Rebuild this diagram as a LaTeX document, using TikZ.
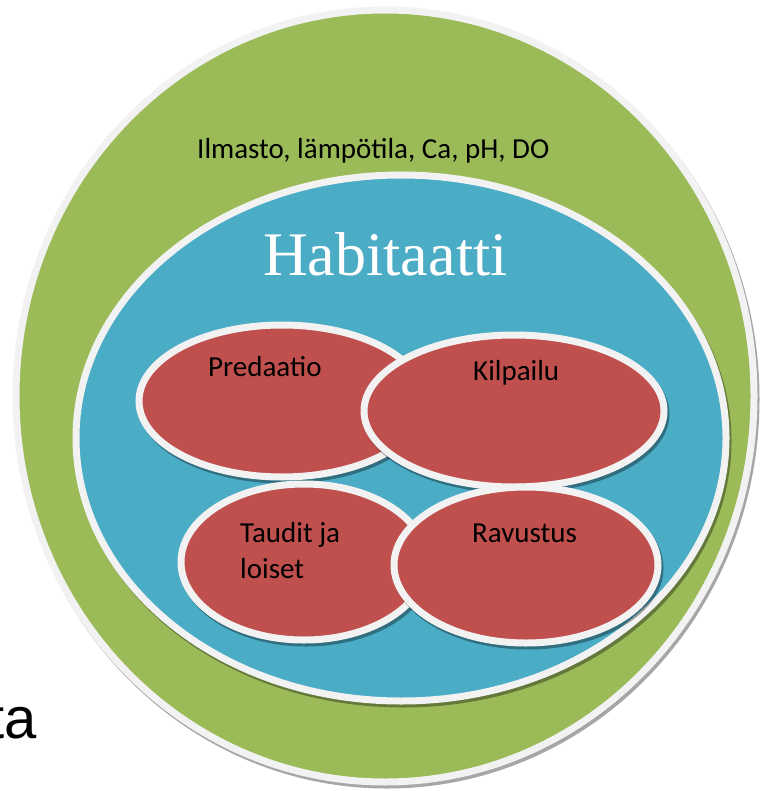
\documentclass[tikz,border=0pt]{standalone}
\usepackage{fontspec}
\setmainfont{Carlito}
\newfontfamily\habfont{Liberation Serif}
\newfontfamily\tafont{Liberation Sans}
\usetikzlibrary{shadows}
\definecolor{ympgreen}{HTML}{9BBB59}
\definecolor{habblue}{HTML}{4BACC6}
\definecolor{tekred}{HTML}{C0504D}
\definecolor{rimwhite}{HTML}{F2F2F2}
\tikzset{
  rim/.style={draw=rimwhite, line width=7pt},
  rimshadow/.style={drop shadow={shadow xshift=2pt, shadow yshift=-3pt, opacity=0.35, fill=black, draw=black, line width=7pt}},
  lbl/.style={anchor=base west, inner sep=0pt, font=\fontsize{29}{36}\selectfont}
}

\begin{document}
\begin{tikzpicture}[x=1pt, y=-1pt]
  \useasboundingbox (0,0) rectangle (761,791);
  % outer ring: environment
  \filldraw[rim, fill=ympgreen, rimshadow] (385,396) ellipse (369 and 386);
  \node[lbl] (ilmasto) at (197,159) {Ilmasto, lämpötila, Ca, pH, DO};
  % habitat
  \filldraw[rim, fill=habblue, rimshadow] (401,438) ellipse (325 and 263);
  \node[lbl, text=white, font=\habfont\fontsize{62}{74}\selectfont] (habitaatti) at (263,275) {Habitaatti};
  % interactions
  \filldraw[rim, fill=tekred, rimshadow] (282,401) ellipse (143 and 76);
  \filldraw[rim, fill=tekred, rimshadow] (514,411) ellipse (150 and 76);
  \filldraw[rim, fill=tekred, rimshadow] (304,562) ellipse (123 and 78);
  \filldraw[rim, fill=tekred, rimshadow] (526,565) ellipse (132 and 78);
  \node[lbl] (predaatio) at (208,376) {Predaatio};
  \node[lbl] (kilpailu) at (473,380) {Kilpailu};
  \node[lbl, align=left] (taudit) at (240,578) {Taudit ja\\loiset};
  \node[lbl] (ravustus) at (472,542) {Ravustus};
  \node[anchor=base east, inner sep=0pt, font=\tafont\fontsize{58}{70}\selectfont] (ta) at (37,738) {ta};
\end{tikzpicture}
\end{document}
